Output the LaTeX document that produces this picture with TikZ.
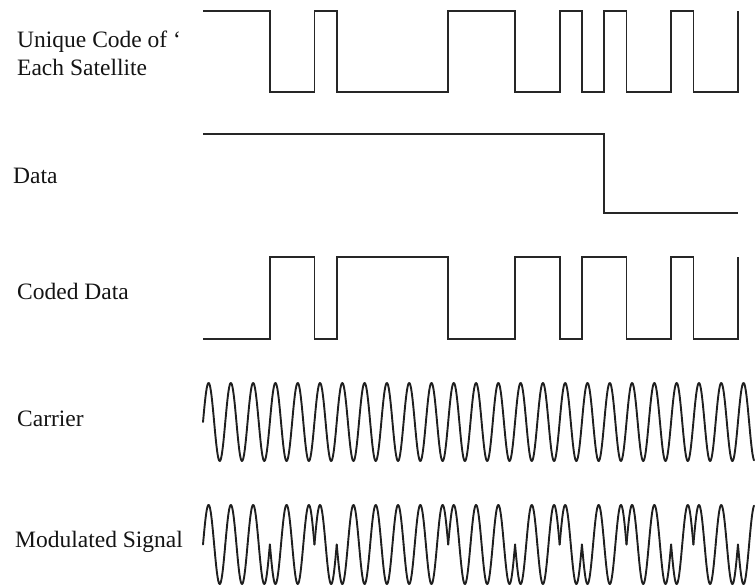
\documentclass[tikz,border=0pt]{standalone}
\usepackage{fontspec}
\setmainfont{Liberation Serif}
\begin{document}
\begin{tikzpicture}[x=1pt,y=-1pt,
  lbl/.style={inner sep=0pt, anchor=base west, text=black!92, font=\fontsize{23.5}{28}\selectfont},
  sig/.style={line width=1.8pt, draw=black!85, line join=miter},
  wave/.style={line width=1.9pt, draw=black!88, line cap=round, line join=round}]
\useasboundingbox (0,0) rectangle (755,586);
% labels
\node[lbl] (code1) at (17,48) {Unique Code of `};
\node[lbl] (code2) at (17,76) {Each Satellite};
\node[lbl] (data) at (13,183) {Data};
\node[lbl] (coded) at (17,299) {Coded Data};
\node[lbl] (carrier) at (17,426) {Carrier};
\node[lbl] (mod) at (15,547) {Modulated Signal};
% unique code
\draw[sig] (203,11) -- (269.9,11) -- (269.9,92) -- (314.5,92) -- (314.5,11) -- (336.7,11) -- (336.7,92) -- (448.2,92) -- (448.2,11) -- (515.1,11) -- (515.1,92) -- (559.6,92) -- (559.6,11) -- (581.9,11) -- (581.9,92) -- (604.2,92) -- (604.2,11) -- (626.5,11) -- (626.5,92) -- (671.1,92) -- (671.1,11) -- (693.4,11) -- (693.4,92) -- (738,92) -- (738,11);
% data
\draw[sig] (203,134) -- (604.2,134) -- (604.2,213) -- (738,213);
% coded data
\draw[sig] (203,339) -- (269.9,339) -- (269.9,257) -- (314.5,257) -- (314.5,339) -- (336.7,339) -- (336.7,257) -- (448.2,257) -- (448.2,339) -- (515.1,339) -- (515.1,257) -- (559.6,257) -- (559.6,339) -- (581.9,339) -- (581.9,257) -- (626.5,257) -- (626.5,339) -- (671.1,339) -- (671.1,257) -- (693.4,257) -- (693.4,339) -- (738,339) -- (738,257);
% carrier
\draw[wave] plot[domain=203:754, samples=1200] (\x, {422 - 39*sin(16.1507*(\x-203))});
% modulated signal
\foreach \s [count=\k from 0] in {1,1,1,-1,-1,1,-1,-1,-1,-1,-1,1,1,1,-1,-1,1,-1,-1,1,1,-1,1,1,-1} {
  \pgfmathsetmacro\xa{203+22.29*\k}
  \pgfmathsetmacro\xb{min(\xa+22.29,754)}
  \draw[wave] plot[domain=\xa:\xb, samples=60] (\x, {544.5 - 39.5*\s*sin(16.1507*(\x-\xa))});
}
\end{tikzpicture}
\end{document}
